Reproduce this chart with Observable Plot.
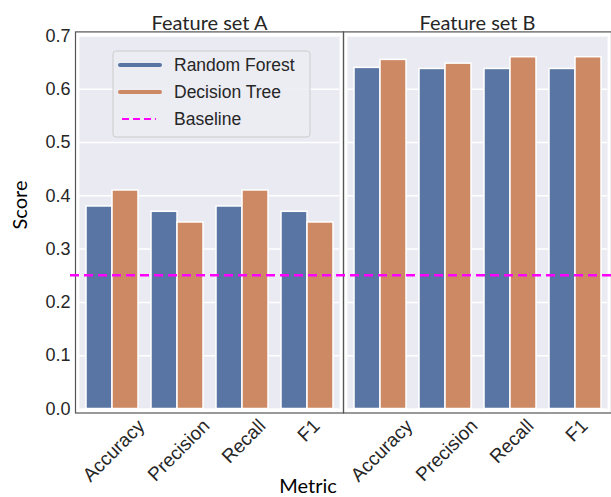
<!DOCTYPE html>
<html><head><meta charset="utf-8">
<script src="https://cdn.jsdelivr.net/npm/d3@7"></script>
<script src="https://cdn.jsdelivr.net/npm/@observablehq/plot@0.6"></script>
<style>html,body{margin:0;padding:0;background:#fff}#chart{position:relative;width:611px;height:497px}</style>
</head><body><div id="chart"></div>
<script>
const featureSets = ["Feature set A", "Feature set B"];
const metrics = ["Accuracy", "Precision", "Recall", "F1"];
const models = ["Random Forest", "Decision Tree"];
const rfA = [0.38, 0.37, 0.38, 0.37];
const dtA = [0.41, 0.35, 0.41, 0.35];
const rfB = [0.64, 0.638, 0.638, 0.638];
const dtB = [0.655, 0.648, 0.66, 0.66];
const baselineValue = 0.25;
const baselineLabel = "Baseline";
const yTicks = [0, 0.1, 0.2, 0.3, 0.4, 0.5, 0.6, 0.7];
const xTitle = "Metric";
const yTitle = "Score";
const colors = ["#5975a4", "#cc8963"];

const rows = [];
featureSets.forEach((set, si) => {
  const rf = si === 0 ? rfA : rfB;
  const dt = si === 0 ? dtA : dtB;
  metrics.forEach((m, i) => {
    rows.push({set, metric: m, model: models[0], score: rf[i]});
    rows.push({set, metric: m, model: models[1], score: dt[i]});
  });
});

const TITLE_FONT = "Lato, 'Open Sans', sans-serif";
const TICK_FONT = "'Liberation Sans', Arial, sans-serif";

const plot = Plot.plot({
  width: 611, height: 497,
  marginLeft: 79, marginRight: 4, marginTop: 35.4, marginBottom: 88.5,
  style: {fontFamily: TICK_FONT, fontSize: "18px", color: "#262626", background: "white", overflow: "visible"},
  fx: {domain: featureSets, paddingInner: 0.0303, paddingOuter: 0, label: null},
  x: {domain: metrics, paddingInner: 0.2, paddingOuter: 0.1, label: null},
  y: {domain: [0, 0.7], label: null},
  color: {domain: models, range: colors},
  marks: [
    Plot.frame({fill: "#eaeaf2", stroke: null}),
    Plot.gridY({ticks: yTicks, stroke: "white", strokeOpacity: 1, strokeWidth: 1.5}),
    Plot.frame({stroke: "#555", strokeWidth: 1.2, inset: -4}),
    Plot.barY(rows.filter(d => d.model === models[0]), {fx: "set", x: "metric", y: "score", fill: "model", stroke: "white", strokeWidth: 1.5, insetRight: 26}),
    Plot.barY(rows.filter(d => d.model === models[1]), {fx: "set", x: "metric", y: "score", fill: "model", stroke: "white", strokeWidth: 1.5, insetLeft: 26}),
    Plot.axisY({ticks: yTicks, tickFormat: ".1f", tickSize: 0, tickPadding: 9, label: null, fontSize: 18}),
    Plot.axisX({tickRotate: -45, tickSize: 0, tickPadding: 6, label: null, fontSize: 19}),
    Plot.axisFx({anchor: "top", tickSize: 0, tickPadding: 6, label: null, fontSize: 20, fontFamily: TITLE_FONT})
  ]
});
document.getElementById("chart").appendChild(plot);

const svg = d3.select(plot.tagName.toLowerCase() === "svg" ? plot : plot.querySelector("svg"));
const svgNode = svg.node();
const svgRect = svgNode.getBoundingClientRect();

// matplotlib-like rotated labels: centered on tick, top of rotated box at fixed y
svg.selectAll('g[aria-label="x-axis tick label"] text').each(function() {
  const el = this;
  el.setAttribute("text-anchor", "middle");
  el.setAttribute("dy", "0.32em");
  const r = el.getBoundingClientRect();
  const cx = (r.left + r.right) / 2 - svgRect.left;
  const delta = 415 - (r.top - svgRect.top);
  el.setAttribute("transform", `translate(-3,${delta}) ` + (el.getAttribute("transform") || ""));
});

// baseline across the figure
const y = plot.scale("y");
const yb = y.apply(baselineValue);
svg.append("line")
  .attr("x1", 70).attr("x2", 611).attr("y1", yb).attr("y2", yb)
  .attr("stroke", "#ff00ff").attr("stroke-width", 2.5).attr("stroke-dasharray", "9,5");

// axis titles
svg.append("text").text(yTitle)
  .attr("transform", "translate(27,205) rotate(-90)")
  .attr("text-anchor", "middle")
  .style("font-family", TITLE_FONT).style("font-size", "20px").attr("fill", "#000");
svg.append("text").text(xTitle)
  .attr("x", 308).attr("y", 493)
  .attr("text-anchor", "middle")
  .style("font-family", TITLE_FONT).style("font-size", "20px").attr("fill", "#000");

// legend
const lg = svg.append("g").attr("text-anchor", "start");
lg.append("rect").attr("x", 113).attr("y", 51).attr("width", 197).attr("height", 86)
  .attr("rx", 3).attr("fill", "#ececf3").attr("fill-opacity", 0.9).attr("stroke", "#cccccc").attr("stroke-width", 1);
const entries = [
  {label: models[0], color: colors[0], dash: null, w: 4},
  {label: models[1], color: colors[1], dash: null, w: 4},
  {label: baselineLabel, color: "#ff00ff", dash: "7,4", w: 2}
];
entries.forEach((e, i) => {
  const cy = 65 + i * 27;
  lg.append("line").attr("y1", cy).attr("y2", cy)
    .attr("stroke", e.color).attr("stroke-width", e.w)
    .attr("stroke-dasharray", e.dash).attr("stroke-linecap", e.dash ? "butt" : "round")
    .attr("x1", e.dash ? 122 : 120).attr("x2", e.dash ? 156 : 160);
  lg.append("text").text(e.label).attr("x", 174).attr("y", cy).attr("dy", "0.35em")
    .attr("text-anchor", "start")
    .style("font-family", TICK_FONT).style("font-size", "17.5px").attr("fill", "#262626");
});
</script>
</body></html>
